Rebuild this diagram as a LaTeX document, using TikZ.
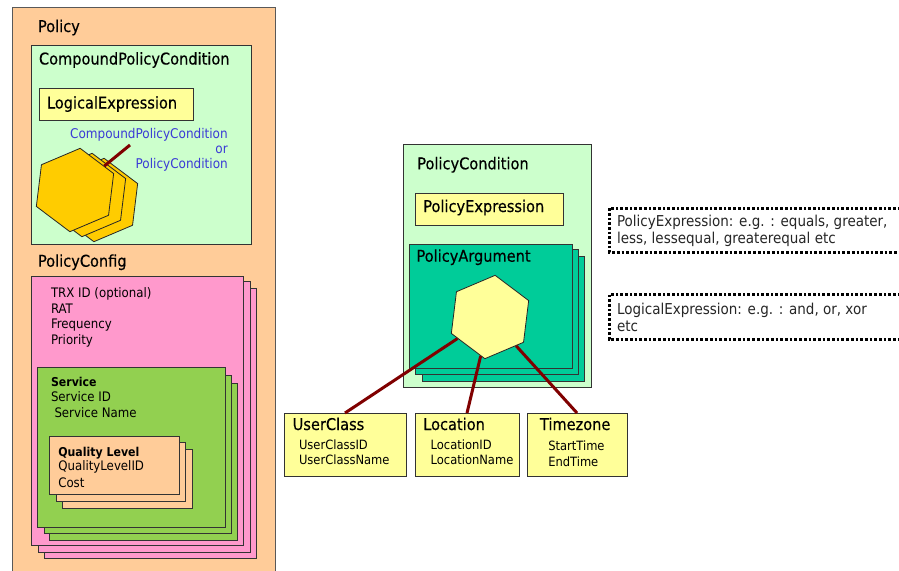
\documentclass[tikz,border=0pt]{standalone}
\usepackage{fontspec}
\setmainfont{DejaVu Sans Condensed}
\newfontfamily\headfont[FakeBold=0.35]{DejaVu Sans Condensed}
\usetikzlibrary{shapes.geometric,fit}

\definecolor{peach}{HTML}{FFCC99}
\definecolor{mint}{HTML}{CCFFCC}
\definecolor{lemon}{HTML}{FFFF99}
\definecolor{rose}{HTML}{FF99CC}
\definecolor{leaf}{HTML}{92D050}
\definecolor{jade}{HTML}{00CC99}
\definecolor{gold}{HTML}{FFCC00}
\definecolor{maroon}{HTML}{800000}
\definecolor{inkblue}{HTML}{3B3BD6}

\newcommand\ftitle{\headfont\fontsize{16.2}{19}\selectfont}
\newcommand\fbody{\fontsize{13.1}{16}\selectfont}
\newcommand\fbold{\bfseries\fontsize{12.2}{15}\selectfont}
\newcommand\fsub{\fontsize{12.8}{15}\selectfont}
\newcommand\fblue{\fontsize{13.4}{16}\selectfont}
\newcommand\fnote{\fontsize{15}{18}\selectfont}

\begin{document}
\begin{tikzpicture}[x=1pt,y=-1pt,
  frame/.style={draw=black!80, line width=1pt, inner sep=0pt, outer sep=0pt},
  panel/.style={frame, fit={#1}},
  lbl/.style={anchor=base west, inner sep=0pt, outer sep=0pt, text=black},
  ttl/.style={lbl, font=\ftitle},
  txt/.style={lbl, font=\fbody},
  strong/.style={lbl, font=\fbold},
  sub/.style={lbl, font=\fsub},
  note/.style={lbl, font=\fnote, text=black!85},
  bluetxt/.style={anchor=base east, inner sep=0pt, font=\fblue, text=inkblue},
  hexa/.style={regular polygon, regular polygon sides=6,
    regular polygon rotate=23, minimum size=84pt, inner sep=0pt,
    draw=black!85, line width=0.8pt},
  link/.style={draw=maroon, line width=3pt},
  dotbox/.style={draw=black, line width=3pt, dash pattern=on 2.7pt off 2pt}
]
\useasboundingbox (0,0) rectangle (899,570);
\fill[white] (0,0) rectangle (899,570);
\begin{scope}
\clip (0,0) rectangle (899,570);

% ---------- Policy ----------
\node[panel={(12,7) (275,585)}, fill=peach, draw=black!65] (policy) {};
\node[ttl] (tPolicy) at (38,32) {Policy};

% CompoundPolicyCondition
\node[panel={(31,45) (251,244)}, fill=mint] (cpc) {};
\node[ttl] (tCpc) at (39,64.5) {CompoundPolicyCondition};
\node[panel={(39,88) (193,120)}, fill=lemon] (lexpr) {};
\node[ttl] (tLexpr) at (47,108.5) {LogicalExpression};

\node[bluetxt] (cpcA) at (228,138.5) {CompoundPolicyCondition};
\node[bluetxt] (cpcB) at (228,153.5) {or};
\node[bluetxt] (cpcC) at (228,168.5) {PolicyCondition};

\node[hexa, fill=gold] (hexC) at (99,200) {};
\node[hexa, fill=gold] (hexB) at (87,195) {};
\node[hexa, fill=gold] (hexA) at (75,190) {};
\coordinate (cpcTip) at (130,145);
\draw[link] (hexA) -- (cpcTip);

% PolicyConfig
\node[ttl] (tCfg) at (38,266.7) {PolicyConfig};
\node[panel={(44,288) (256,558)}, fill=rose] (cfgC) {};
\node[panel={(38,281) (250,552)}, fill=rose] (cfgB) {};
\node[panel={(31,276) (243,545)}, fill=rose] (cfgA) {};
\node[txt] (tTrx) at (51,297.7) {TRX ID (optional)};
\node[txt] (tRat) at (51,313.2) {RAT};
\node[txt] (tFreq) at (51,328.7) {Frequency};
\node[txt] (tPrio) at (51,344.2) {Priority};

% Service
\node[panel={(49,383) (237,540)}, fill=leaf] (svcC) {};
\node[panel={(44,375) (231,533)}, fill=leaf] (svcB) {};
\node[panel={(37,367) (225,527)}, fill=leaf] (svcA) {};
\node[strong] (tSvc) at (51,386) {Service};
\node[txt] (tSvcId) at (51,401.7) {Service ID};
\node[txt] (tSvcName) at (54.5,417.3) {Service Name};

% Quality Level
\node[panel={(62,449) (192,508)}, fill=peach] (qlC) {};
\node[panel={(56,442) (185,501)}, fill=peach] (qlB) {};
\node[panel={(49,436) (179,494)}, fill=peach] (qlA) {};
\node[strong] (tQl) at (58.3,456) {Quality Level};
\node[txt] (tQlId) at (58.3,470.7) {QualityLevelID};
\node[txt] (tCost) at (58.3,487.3) {Cost};

% ---------- PolicyCondition ----------
\node[panel={(403,144) (591,387)}, fill=mint] (pcond) {};
\node[ttl] (tPcond) at (417.3,169.3) {PolicyCondition};
\node[panel={(415,193) (563,225)}, fill=lemon] (pexpr) {};
\node[ttl] (tPexpr) at (423.3,212) {PolicyExpression};

\node[panel={(422,256) (584,381)}, fill=jade] (pargC) {};
\node[panel={(415,249) (578,374)}, fill=jade] (pargB) {};
\node[panel={(409,244) (572,368)}, fill=jade] (pargA) {};
\node[ttl] (tParg) at (416.5,261.7) {PolicyArgument};
\node[hexa, fill=lemon] (argHex) at (490,317) {};

% argument types
\node[panel={(284,413) (406,476)}, fill=lemon] (ucls) {};
\node[ttl] (tUcls) at (292.7,430) {UserClass};
\node[sub] (tUclsId) at (299,449) {UserClassID};
\node[sub] (tUclsName) at (299,464.3) {UserClassName};

\node[panel={(415,413) (519,476)}, fill=lemon] (loc) {};
\node[ttl] (tLoc) at (423.3,430) {Location};
\node[sub] (tLocId) at (430.7,449) {LocationID};
\node[sub] (tLocName) at (430.7,464.3) {LocationName};

\node[panel={(527,413) (627,476)}, fill=lemon] (tzone) {};
\node[ttl] (tTz) at (540,430) {Timezone};
\node[sub] (tTzStart) at (548.3,450.7) {StartTime};
\node[sub] (tTzEnd) at (548.3,466.7) {EndTime};

\draw[link] (argHex) -- (ucls.north);
\draw[link] (argHex) -- (loc.north);
\draw[link] (argHex) -- (tzone.north);

% ---------- notes ----------
\coordinate (peTop) at (905,208);
\coordinate (peBot) at (905,252);
\draw[dotbox] (peTop) -| (609,252) -- (peBot);
\node[note] (peA) at (617,226.5) {PolicyExpression: e.g. : equals, greater,};
\node[note] (peB) at (617,243.5) {less, lessequal, greaterequal etc};

\coordinate (leTop) at (905,294.5);
\coordinate (leBot) at (905,339.5);
\draw[dotbox] (leTop) -| (609,339.5) -- (leBot);
\node[note] (leA) at (617,314) {LogicalExpression: e.g. : and, or, xor};
\node[note] (leB) at (617,331) {etc};
\end{scope}
\end{tikzpicture}
\end{document}
